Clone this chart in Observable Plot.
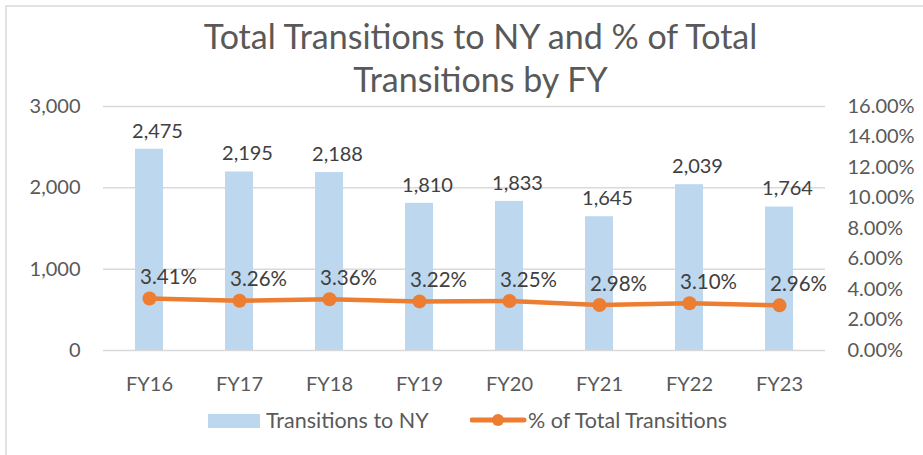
<!DOCTYPE html>
<html>
<head>
<meta charset="utf-8">
<script src="https://cdn.jsdelivr.net/npm/d3@7"></script>
<script src="https://cdn.jsdelivr.net/npm/@observablehq/plot@0.6"></script>
<style>
  html, body { margin: 0; padding: 0; background: #fff; }
  body { width: 923px; height: 455px; position: relative; overflow: hidden; font-family: Lato, "Open Sans", sans-serif; }
  #frame { position: absolute; left: 5px; top: 5px; width: 940px; height: 470px; border-left: 2px solid #e2e2e2; border-top: 2px solid #e2e2e2; }
  #title { position: absolute; left: 19px; top: 14px; width: 923px; text-align: center; font-size: 34px; line-height: 43px; color: #595959; }
  #chart { position: absolute; left: 0; top: 90px; }
  #legend { position: absolute; left: 0; top: 407px; width: 923px; height: 26px; }
  .li { position: absolute; top: 0; font-size: 21.5px; color: #595959; line-height: 26px; white-space: nowrap; }
</style>
</head>
<body>
<div id="frame"></div>
<div id="title">Total Transitions to NY and % of Total<br>Transitions by FY</div>
<div id="chart"></div>
<div id="legend">
  <div class="li" style="left:208px;"><span style="display:inline-block;width:52px;height:14px;background:#BDD7EE;vertical-align:0px;margin-right:6px;"></span>Transitions to NY</div>
  <div class="li" style="left:470px;"><svg width="58" height="26" style="vertical-align:top"><line x1="2" x2="54" y1="13" y2="13" stroke="#ED7D31" stroke-width="5" stroke-linecap="round"/><circle cx="28" cy="13" r="6" fill="#ED7D31"/></svg>% of Total Transitions</div>
</div>
<script>
const years = ["FY16", "FY17", "FY18", "FY19", "FY20", "FY21", "FY22", "FY23"];
const transitions = [2475, 2195, 2188, 1810, 1833, 1645, 2039, 1764];
const pctTotal = [0.0341, 0.0326, 0.0336, 0.0322, 0.0325, 0.0298, 0.0310, 0.0296];
const leftTicks = [0, 1000, 2000, 3000];
const rightTicks = [0, 0.02, 0.04, 0.06, 0.08, 0.10, 0.12, 0.14, 0.16];

// secondary axis mapping: 0–16% onto 0–3000
const pctToY = d3.scaleLinear().domain([0, 0.16]).range([0, 3000]);

const rows = years.map((fy, i) => ({fy, count: transitions[i], pct: pctTotal[i], py: pctToY(pctTotal[i])}));

const fmtCount = d3.format(",");
const fmtPct = d3.format(".2%");

const chart = Plot.plot({
  width: 923,
  height: 310,
  marginLeft: 103,
  marginRight: 98,
  marginTop: 16,
  marginBottom: 50,
  style: { fontFamily: "Lato, 'Open Sans', sans-serif", background: "transparent" },
  x: { type: "band", domain: years, paddingInner: 0.69, paddingOuter: 0.345, axis: null },
  y: { domain: [0, 3000], axis: null },
  marks: [
    Plot.gridY(leftTicks, { stroke: "#d9d9d9", strokeOpacity: 1, strokeWidth: 1.5 }),
    Plot.barY(rows, { x: "fy", y: "count", fill: "#BDD7EE" }),
    Plot.line(rows, { x: "fy", y: "py", stroke: "#ED7D31", strokeWidth: 4.5, strokeLinecap: "round", strokeLinejoin: "round" }),
    Plot.dot(rows, { x: "fy", y: "py", r: 7, fill: "#ED7D31", stroke: "none" }),
    Plot.text(rows, { x: "fy", y: "count", text: d => fmtCount(d.count), dx: 8, dy: -18, fontSize: 20, fill: "#404040" }),
    Plot.text(rows, { x: "fy", y: "py", text: d => fmtPct(d.pct), dx: 19, dy: -21, fontSize: 20.5, fill: "#404040" }),
    Plot.axisY(leftTicks, { anchor: "left", tickSize: 0, tickPadding: 23, tickFormat: fmtCount, fontSize: 20, fill: "#595959", label: null }),
    Plot.axisY(rightTicks.map(p => pctToY(p)), { anchor: "right", tickSize: 0, tickPadding: 22, tickFormat: v => fmtPct(pctToY.invert(v)), fontSize: 20, fill: "#595959", label: null }),
    Plot.axisX({ tickSize: 0, tickPadding: 26, fontSize: 20, fill: "#595959", label: null })
  ]
});
document.getElementById("chart").appendChild(chart);
</script>
</body>
</html>
